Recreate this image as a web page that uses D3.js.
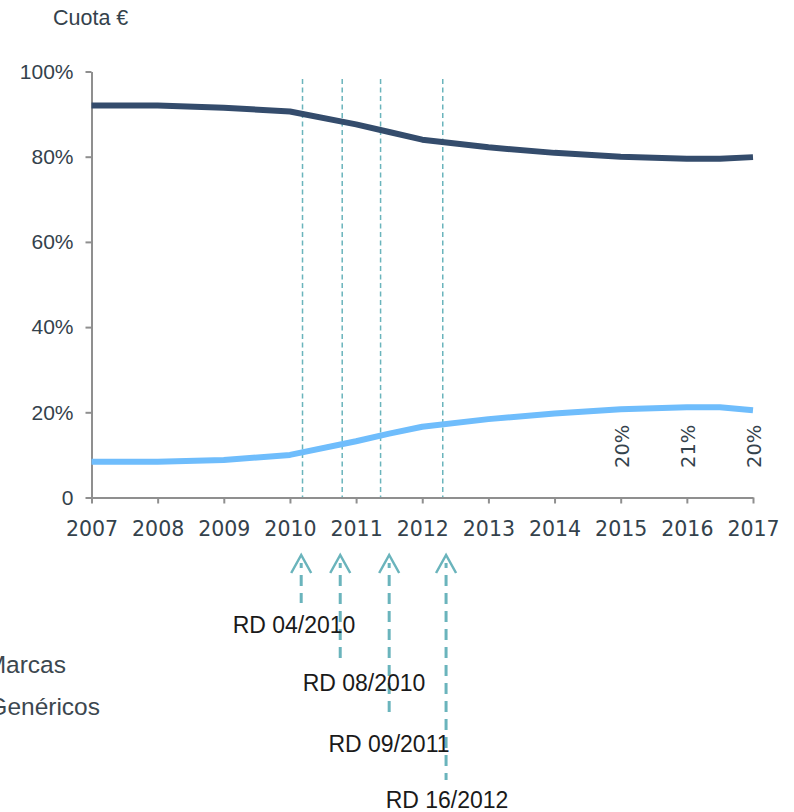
<!DOCTYPE html>
<html>
<head>
<meta charset="utf-8">
<script src="https://cdn.jsdelivr.net/npm/d3@7"></script>
<style>
  body { margin: 0; background: #fff; }
  svg { display: block; }
</style>
</head>
<body>
<svg id="chart"></svg>
<script>
// data
const years = [2007, 2008, 2009, 2010, 2011, 2011.5, 2012, 2013, 2014, 2015, 2016, 2016.5, 2017];
const marcas = [0.920, 0.920, 0.915, 0.906, 0.876, 0.858, 0.840, 0.822, 0.809, 0.800, 0.795, 0.795, 0.799];
const genericos = [0.084, 0.084, 0.088, 0.100, 0.132, 0.150, 0.166, 0.184, 0.197, 0.207, 0.212, 0.212, 0.205];
const xTicks = [2007, 2008, 2009, 2010, 2011, 2012, 2013, 2014, 2015, 2016, 2017];
const yTicks = [0, 0.2, 0.4, 0.6, 0.8, 1];
const endYears = [2015, 2016, 2017];
const endLabels = ["20%", "21%", "20%"];
const rdNames = ["RD 04/2010", "RD 08/2010", "RD 09/2011", "RD 16/2012"];
const rdLines = [2010.19, 2010.79, 2011.37, 2012.31];   // dashed guides in the plot
const rdArrows = [2010.17, 2010.76, 2011.5, 2012.36];   // arrows under the axis
const legendNames = ["Marcas", "Genéricos"];

const W = 794, H = 812;
const svg = d3.select("#chart").attr("width", W).attr("height", H);

const x = d3.scaleLinear().domain([2007, 2017]).range([91.5, 753]);
const y = d3.scaleLinear().domain([0, 1]).range([497.5, 71.5]);

const textCol = "#34424c";

// title
svg.append("text")
  .attr("x", 53).attr("y", 25)
  .attr("font-family", "Liberation Sans, Arial, sans-serif")
  .attr("font-size", 21.5)
  .attr("fill", textCol)
  .text("Cuota €");

// dashed guides
svg.append("g")
  .selectAll("line")
  .data(rdLines)
  .join("line")
  .attr("x1", d => x(d)).attr("x2", d => x(d))
  .attr("y1", 79).attr("y2", y(0))
  .attr("stroke", "#6ab4bc")
  .attr("stroke-width", 1.5)
  .attr("stroke-dasharray", "5,3.5");

// axes
const yAxis = svg.append("g")
  .attr("transform", `translate(${x(2007)},0)`)
  .call(d3.axisLeft(y).tickValues(yTicks)
    .tickFormat(d => d === 0 ? "0" : d3.format(".0%")(d))
    .tickSize(6).tickSizeOuter(0).tickPadding(12));
yAxis.selectAll("text")
  .attr("font-family", "Liberation Sans, Arial, sans-serif")
  .attr("font-size", 21)
  .attr("fill", textCol);

const xAxis = svg.append("g")
  .attr("transform", `translate(0,${y(0)})`)
  .call(d3.axisBottom(x).tickValues(xTicks)
    .tickFormat(d3.format("d"))
    .tickSize(6).tickSizeOuter(0).tickPadding(18));
xAxis.selectAll("text")
  .attr("font-family", "DejaVu Sans, sans-serif")
  .attr("font-size", 20.5)
  .attr("fill", textCol);

svg.selectAll(".domain, .tick line")
  .attr("stroke", "#8f8f8f")
  .attr("stroke-width", 2);

// series
const line = d3.line()
  .x((d, i) => x(years[i]))
  .y(d => y(d));

svg.append("path")
  .datum(genericos)
  .attr("d", line)
  .attr("fill", "none")
  .attr("stroke", "#6fbdfc")
  .attr("stroke-width", 6)
  .attr("stroke-linejoin", "round");

svg.append("path")
  .datum(marcas)
  .attr("d", line)
  .attr("fill", "none")
  .attr("stroke", "#344c6c")
  .attr("stroke-width", 6)
  .attr("stroke-linejoin", "round");

// rotated end labels
svg.append("g")
  .selectAll("text")
  .data(endYears)
  .join("text")
  .attr("transform", d => `translate(${x(d) + 8},468) rotate(-90)`)
  .attr("font-family", "DejaVu Sans, sans-serif")
  .attr("font-size", 19.5)
  .attr("fill", textCol)
  .text((d, i) => endLabels[i]);

// arrows below the axis
const shaftEnd = [603, 658, 718, 780];
const labelPos = [[294, 633], [364, 691], [389, 752], [447, 808]];
const arrowCol = "#6ab4bc";

const arrows = svg.append("g")
  .selectAll("g")
  .data(rdArrows)
  .join("g");

arrows.append("path")
  .attr("d", d => `M${x(d) - 10},573 L${x(d)},555 L${x(d) + 10},573`)
  .attr("fill", "none")
  .attr("stroke", arrowCol)
  .attr("stroke-width", 2.5);

arrows.append("line")
  .attr("x1", d => x(d)).attr("x2", d => x(d))
  .attr("y1", 563).attr("y2", (d, i) => shaftEnd[i])
  .attr("stroke", arrowCol)
  .attr("stroke-width", 3)
  .attr("stroke-dasharray", "11,7")
  .attr("stroke-dashoffset", -12);

svg.append("g")
  .selectAll("text")
  .data(rdNames)
  .join("text")
  .attr("x", (d, i) => labelPos[i][0])
  .attr("y", (d, i) => labelPos[i][1])
  .attr("text-anchor", "middle")
  .attr("font-family", "Liberation Sans, Arial, sans-serif")
  .attr("font-size", 23)
  .attr("fill", "#1a1a1a")
  .text(d => d);

// legend (runs off the left edge, as in the original)
svg.append("g")
  .selectAll("text")
  .data(legendNames)
  .join("text")
  .attr("x", (d, i) => [66, 100][i])
  .attr("y", (d, i) => [673, 715][i])
  .attr("text-anchor", "end")
  .attr("font-family", "Liberation Sans, Arial, sans-serif")
  .attr("font-size", 24.5)
  .attr("fill", "#3c474f")
  .text(d => d);
</script>
</body>
</html>
